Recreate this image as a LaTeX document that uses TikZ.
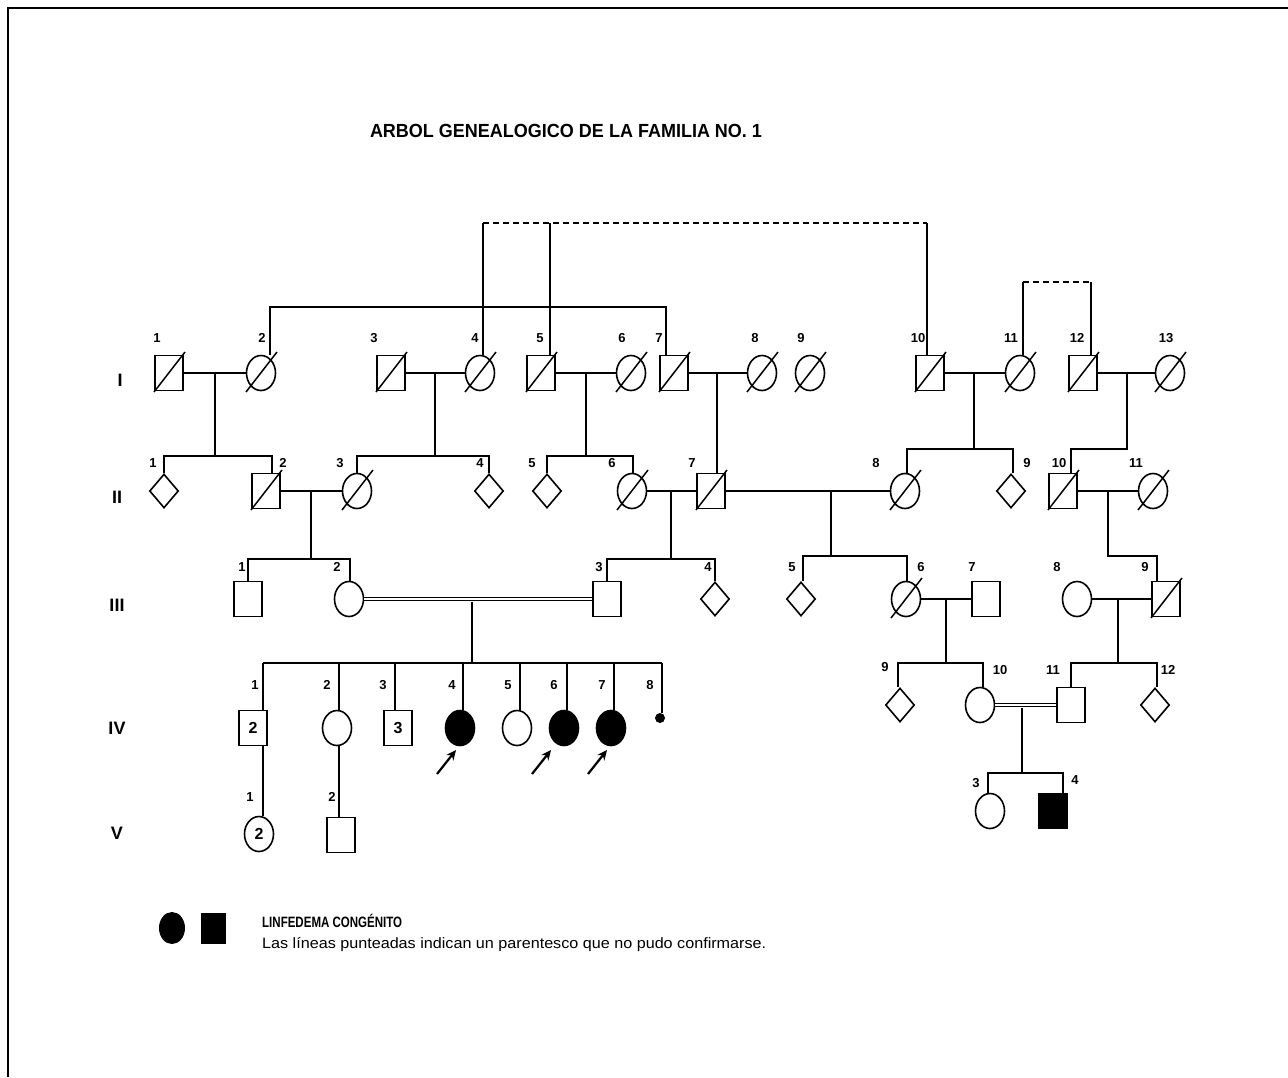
\documentclass[tikz,border=0pt]{standalone}
\usepackage{graphicx}
\usepackage{fontspec}
\setmainfont{Liberation Sans}
\usetikzlibrary{shapes.geometric,calc,arrows.meta}
\begin{document}
\begin{tikzpicture}[x=1pt,y=-1pt,
  sq/.style={draw,rectangle,line width=1.6pt,minimum width=28pt,minimum height=35pt,inner sep=0pt},
  ci/.style={draw,ellipse,line width=1.6pt,minimum width=29pt,minimum height=35pt,inner sep=0pt},
  di/.style={draw,diamond,line width=1.6pt,minimum width=29pt,minimum height=34pt,inner sep=0pt},
  aff/.style={fill=black},
  inum/.style={font=\bfseries\fontsize{16}{16}\selectfont},
  num/.style={font=\bfseries\fontsize{13}{13}\selectfont,inner sep=0pt},
  gen/.style={font=\bfseries\fontsize{18}{18}\selectfont,inner sep=0pt},
  ln/.style={line width=1.6pt},
  dl/.style={line width=1.6pt,dash pattern=on 6pt off 4pt},
  dbl/.style={double,double distance=2pt,line width=1.3pt},
  slash/.style={line width=1.5pt},
  arr/.style={line width=2.2pt,-{Stealth[length=10pt,width=9pt]}}
]
\useasboundingbox (0,0) rectangle (1288,1077);
\fill[white] (0,0) rectangle (1288,1077);
\draw[line width=2.5pt] (8,1077) -- (8,8) -- (1288,8);

% title
\node (title) at (566,131) {\resizebox{392pt}{\height}{\bfseries\fontsize{19}{19}\selectfont ARBOL GENEALOGICO DE LA FAMILIA NO. 1}};

% generation labels
\node[gen] (rI) at (120,380) {I};
\node[gen] (rII) at (117,497) {II};
\node[gen] (rIII) at (117,605) {III};
\node[gen] (rIV) at (117,728) {IV};
\node[gen] (rV) at (117,833) {V};

% ---------- generation I ----------
\node[sq] (I1) at (169,373) {};
\node[ci] (I2) at (261,373) {};
\node[sq] (I3) at (391,373) {};
\node[ci] (I4) at (480,373) {};
\node[sq] (I5) at (541,373) {};
\node[ci] (I6) at (631,373) {};
\node[sq] (I7) at (674,373) {};
\node[ci] (I8) at (762,373) {};
\node[ci] (I9) at (810,373) {};
\node[sq] (I10) at (930,373) {};
\node[ci] (I11) at (1020,373) {};
\node[sq] (I12) at (1083,373) {};
\node[ci] (I13) at (1170,373) {};
\foreach \n/\x in {1/157,2/262,3/374,4/475,5/540,6/622,7/659,8/755,9/801,10/918,11/1011,12/1077,13/1166}
  \node[num] (lI\n) at (\x,338) {\n};

% ---------- generation II ----------
\node[di] (II1) at (164,491) {};
\node[sq] (II2) at (266,491) {};
\node[ci] (II3) at (357,491) {};
\node[di] (II4) at (489,491) {};
\node[di] (II5) at (547,491) {};
\node[ci] (II6) at (632,491) {};
\node[sq] (II7) at (711,491) {};
\node[ci] (II8) at (905,491) {};
\node[di] (II9) at (1011,491) {};
\node[sq] (II10) at (1063,491) {};
\node[ci] (II11) at (1153,491) {};
\foreach \n/\x in {1/153,2/283,3/340,4/480,5/532,6/612,7/692,8/876,9/1027,10/1059,11/1136}
  \node[num] (lII\n) at (\x,463) {\n};

% ---------- generation III ----------
\node[sq] (III1) at (248,599) {};
\node[ci] (III2) at (349,599) {};
\node[sq] (III3) at (607,599) {};
\node[di] (III4) at (715,599) {};
\node[di] (III5) at (801,599) {};
\node[ci] (III6) at (906,599) {};
\node[sq] (III7) at (986,599) {};
\node[ci] (III8) at (1077,599) {};
\node[sq] (III9) at (1166,599) {};
\foreach \n/\x in {1/242,2/337,3/599,4/708,5/792,6/921,7/972,8/1057,9/1145}
  \node[num] (lIII\n) at (\x,567) {\n};

% ---------- generation IV ----------
\node[sq,inum] (IV1) at (253,728) {2};
\node[ci] (IV2) at (337,728) {};
\node[sq,inum] (IV3) at (398,728) {3};
\node[ci,aff] (IV4) at (460,728) {};
\node[ci] (IV5) at (517,728) {};
\node[ci,aff] (IV6) at (564,728) {};
\node[ci,aff] (IV7) at (611,728) {};
\node[circle,fill=black,minimum size=10pt,inner sep=0pt] (IV8) at (660,718) {};
\node[di] (IV9) at (900,705) {};
\node[ci] (IV10) at (980,705) {};
\node[sq] (IV11) at (1071,705) {};
\node[di] (IV12) at (1155,705) {};
\foreach \n/\x in {1/255,2/327,3/383,4/452,5/508,6/554,7/602,8/650}
  \node[num] (lIV\n) at (\x,685) {\n};
\node[num] (lIV9) at (885,667) {9};
\node[num] (lIV10) at (1000,670) {10};
\node[num] (lIV11) at (1053,670) {11};
\node[num] (lIV12) at (1168,670) {12};

% ---------- generation V ----------
\node[ci,inum] (V1) at (259,834) {2};
\node[sq] (V2) at (341,835) {};
\node[ci] (V3) at (990,811) {};
\node[sq,aff] (V4) at (1053,811) {};
\node[num] (lV1) at (250,797) {1};
\node[num] (lV2) at (332,797) {2};
\node[num] (lV3) at (976,783) {3};
\node[num] (lV4) at (1075,780) {4};

% deceased slashes
\foreach \n in {I1,I2,I3,I4,I5,I6,I7,I8,I9,I10,I11,I12,I13,II2,II3,II6,II7,II8,II10,II11,III6,III9}
  \draw[slash] ($(\n.center)+(-15,19)$) -- ($(\n.center)+(16,-21)$);

% ---------- upper (uncertain / related) links ----------
\coordinate (tA) at (483,223);
\coordinate (tB) at (550,223);
\coordinate (tC) at (927,223);
\draw[dl] (tA) -- (tC);
\draw[ln] (tA) -- (I4.north -| tA);
\draw[ln] (tB) -- (I5.north -| tB);
\draw[ln] (tC) -- (I10.north -| tC);
\coordinate (bA) at (270,307);
\coordinate (bB) at (666,307);
\draw[ln] (I2.north -| bA) -- (bA) -- (bB) -- (I7.north -| bB);
\coordinate (sA) at (1023,282);
\coordinate (sB) at (1091,282);
\draw[dl] (sA) -- (sB);
\draw[ln] (sA) -- (I11.north -| sA);
\draw[ln] (sB) -- (I12.north -| sB);

% ---------- generation I couples ----------
\draw[ln] (I1) -- (I2);
\draw[ln] (I3) -- (I4);
\draw[ln] (I5) -- (I6);
\draw[ln] (I7) -- (I8);
\draw[ln] (I10) -- (I11);
\draw[ln] (I12) -- (I13);

\coordinate (m1) at (215,373); \coordinate (s1) at (215,456);
\coordinate (s1a) at (164,456); \coordinate (s1b) at (272,456);
\draw[ln] (m1) -- (s1);
\draw[ln] (II1.north) -- (s1a) -- (s1b) -- (II2.north -| s1b);

\coordinate (m2) at (435,373); \coordinate (s2) at (435,456);
\coordinate (s2a) at (357,456); \coordinate (s2b) at (489,456);
\draw[ln] (m2) -- (s2);
\draw[ln] (II3.north) -- (s2a) -- (s2b) -- (II4.north);

\coordinate (m3) at (586,373); \coordinate (s3) at (586,456);
\coordinate (s3a) at (547,456); \coordinate (s3b) at (633,456);
\draw[ln] (m3) -- (s3);
\draw[ln] (II5.north) -- (s3a) -- (s3b) -- (II6.north -| s3b);

\coordinate (m4) at (717,373);
\draw[ln] (m4) -- (II7.north -| m4);

\coordinate (m5) at (974,373); \coordinate (s5) at (974,449);
\coordinate (s5a) at (907,449); \coordinate (s5b) at (1013,449);
\draw[ln] (m5) -- (s5);
\draw[ln] (II8.north -| s5a) -- (s5a) -- (s5b) -- (II9.north -| s5b);

\coordinate (m6) at (1127,373); \coordinate (s6) at (1127,449);
\coordinate (s6a) at (1071,449);
\draw[ln] (m6) -- (s6) -- (s6a) -- (II10.north -| s6a);

% ---------- generation II couples ----------
\draw[ln] (II2) -- (II3);
\draw[ln] (II6) -- (II7);
\draw[ln] (II7) -- (II8);
\draw[ln] (II10) -- (II11);

\coordinate (n1) at (311,491); \coordinate (t1) at (311,559);
\coordinate (t1a) at (248,559); \coordinate (t1b) at (350,559);
\draw[ln] (n1) -- (t1);
\draw[ln] (III1.north -| t1a) -- (t1a) -- (t1b) -- (III2.north -| t1b);

\coordinate (n2) at (671,491); \coordinate (t2) at (671,559);
\coordinate (t2a) at (607,559); \coordinate (t2b) at (715,559);
\draw[ln] (n2) -- (t2);
\draw[ln] (III3.north) -- (t2a) -- (t2b) -- (III4.north);

\coordinate (n3) at (831,491); \coordinate (t3) at (831,556);
\coordinate (t3a) at (803,556); \coordinate (t3b) at (907,556);
\draw[ln] (n3) -- (t3);
\draw[ln] (III5.north -| t3a) -- (t3a) -- (t3b) -- (III6.north -| t3b);

\coordinate (n4) at (1108,491); \coordinate (t4) at (1108,556);
\coordinate (t4b) at (1157,556);
\draw[ln] (n4) -- (t4) -- (t4b) -- (III9.north -| t4b);

% ---------- generation III couples ----------
\draw[dbl] (III2) -- (III3);
\draw[ln] (III6) -- (III7);
\draw[ln] (III8) -- (III9);

\coordinate (p1) at (472,601.5); \coordinate (u1) at (472,663);
\coordinate (u1a) at (263,663); \coordinate (u1b) at (662,663);
\draw[ln] (p1) -- (u1);
\draw[ln] (u1a) -- (u1b);
\foreach \k/\x in {1/263,2/339,3/395,4/463,5/520,6/567,7/614,8/662} {
  \coordinate (c\k) at (\x,663);
  \draw[ln] (c\k) -- (IV\k.north -| c\k);
}

\coordinate (p2) at (946,599); \coordinate (u2) at (946,663);
\coordinate (u2a) at (898,663); \coordinate (u2b) at (983,663);
\draw[ln] (p2) -- (u2);
\draw[ln] (IV9.north -| u2a) -- (u2a) -- (u2b) -- (IV10.north -| u2b);

\coordinate (p3) at (1118,599); \coordinate (u3) at (1118,663);
\coordinate (u3a) at (1071,663); \coordinate (u3b) at (1157,663);
\draw[ln] (p3) -- (u3);
\draw[ln] (IV11.north) -- (u3a) -- (u3b) -- (IV12.north -| u3b);

% ---------- generation IV couples / descendants ----------
\draw[dbl] (IV10) -- (IV11);
\coordinate (q1) at (1022,707.5); \coordinate (w1) at (1022,773);
\coordinate (w1a) at (988,773); \coordinate (w1b) at (1063,773);
\draw[ln] (q1) -- (w1);
\draw[ln] (V3.north -| w1a) -- (w1a) -- (w1b) -- (V4.north -| w1b);

\draw[ln] (IV1.south -| c1) -- (V1.north -| c1);
\draw[ln] (IV2.south -| c2) -- (V2.north -| c2);

% proband arrows
\coordinate (a4s) at (437,774); \coordinate (a4e) at (456,750);
\coordinate (a6s) at (532,774); \coordinate (a6e) at (551,750);
\coordinate (a7s) at (588,774); \coordinate (a7e) at (607,750);
\draw[arr] (a4s) -- (a4e);
\draw[arr] (a6s) -- (a6e);
\draw[arr] (a7s) -- (a7e);

% ---------- legend ----------
\node[ellipse,fill=black,minimum width=26pt,minimum height=32pt,inner sep=0pt] (Lc) at (172,928) {};
\node[rectangle,fill=black,minimum width=25pt,minimum height=31pt,inner sep=0pt] (Ls) at (213,928) {};
\node[anchor=west,inner sep=0pt] (Lt1) at (262,921) {\resizebox{140pt}{\height}{\bfseries\fontsize{15}{15}\selectfont LINFEDEMA CONGÉNITO}};
\node[anchor=west,inner sep=0pt] (Lt2) at (262,945) {\resizebox{504pt}{\height}{\fontsize{15}{15}\selectfont Las líneas punteadas indican un parentesco que no pudo confirmarse.}};
\end{tikzpicture}
\end{document}
